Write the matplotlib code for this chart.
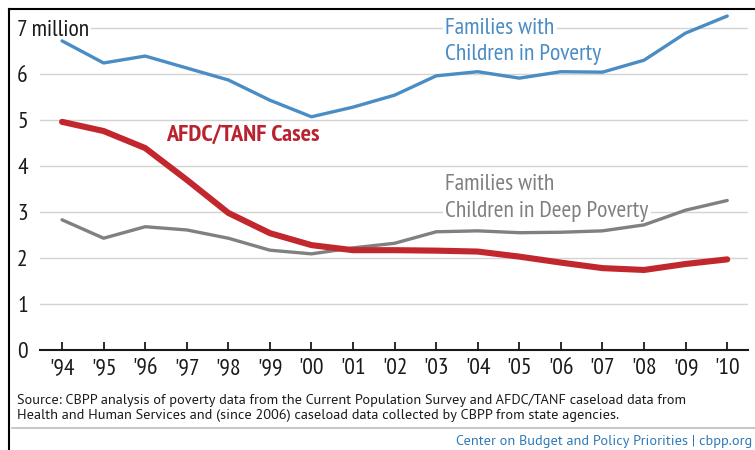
#!/usr/bin/env python3
import matplotlib

matplotlib.use("Agg")
from matplotlib import font_manager
import matplotlib.pyplot as plt
from matplotlib.lines import Line2D

YEARS = list(range(1994, 2011))
YEAR_LABELS = ["'94", "'95", "'96", "'97", "'98", "'99", "'00", "'01", "'02",
               "'03", "'04", "'05", "'06", "'07", "'08", "'09", "'10"]
FAMILIES_POVERTY = [6.72, 6.24, 6.39, 6.13, 5.87, 5.43, 5.07, 5.28, 5.54,
                    5.96, 6.05, 5.91, 6.05, 6.04, 6.30, 6.89, 7.26]
AFDC_TANF = [4.96, 4.76, 4.39, 3.70, 2.98, 2.54, 2.28, 2.17, 2.17,
             2.16, 2.14, 2.03, 1.90, 1.78, 1.74, 1.87, 1.97]
DEEP_POVERTY = [2.83, 2.43, 2.68, 2.61, 2.43, 2.17, 2.09, 2.22, 2.32,
                2.57, 2.59, 2.55, 2.56, 2.59, 2.72, 3.04, 3.25]
Y_TICKS = [0, 1, 2, 3, 4, 5, 6, 7]
Y_LABELS = ["0", "1", "2", "3", "4", "5", "6", "7 million"]

BLUE = "#4A8CC4"
RED = "#C1272D"
GRAY = "#808080"
GRID_COLOR = "#D3D3D3"

SOURCE = ("Source: CBPP analysis of poverty data from the Current Population Survey and AFDC/TANF caseload data from\n"
          "Health and Human Services and (since 2006) caseload data collected by CBPP from state agencies.")
FOOTER = "Center on Budget and Policy Priorities | cbpp.org"


def _pick_font(preferred):
    available = {font.name for font in font_manager.fontManager.ttflist}
    stack = [name for name in preferred if name in available]
    return stack + ["DejaVu Sans"]


MAIN_FONT = _pick_font(["PT Sans Narrow", "Fira Sans Condensed", "Open Sans"])
NOTE_FONT = _pick_font(["PT Sans", "Open Sans"])
plt.rcParams["font.family"] = MAIN_FONT

W, H = 755, 450
fig = plt.figure(figsize=(W / 100, H / 100), dpi=100)
ax = fig.add_axes([40 / W, 1 - 350 / H, (748 - 40) / W, 335.8 / H])

ax.plot(YEARS, FAMILIES_POVERTY, color=BLUE, linewidth=2.4, solid_capstyle="round", zorder=3)
ax.plot(YEARS, DEEP_POVERTY, color=GRAY, linewidth=2.4, solid_capstyle="round", zorder=3)
ax.plot(YEARS, AFDC_TANF, color=RED, linewidth=4.4, solid_capstyle="round", zorder=4)

ax.set_xlim(1993.47, 2010.5)
ax.set_ylim(0, 7.3)
ax.set_yticks(Y_TICKS)
ax.set_yticklabels(Y_LABELS)
ax.set_xticks(YEARS)
ax.set_xticklabels(YEAR_LABELS)
ax.grid(True, axis="y", color=GRID_COLOR, linewidth=1.0)
ax.set_axisbelow(True)
for name in ("top", "right", "left"):
    ax.spines[name].set_visible(False)
ax.spines["bottom"].set_linewidth(1.5)
ax.spines["bottom"].set_color("#1a1a1a")
ax.tick_params(axis="x", direction="in", length=6, width=1.3, pad=6, labelsize=17, colors="#1a1a1a")
ax.tick_params(axis="y", length=0, pad=16.5, labelsize=17, colors="#1a1a1a")
for label in ax.get_yticklabels():
    label.set_horizontalalignment("left")
top_label = ax.get_yticklabels()[-1]
top_label.set_bbox(dict(facecolor="white", edgecolor="none", pad=1.5))

box = dict(facecolor="white", edgecolor="none", pad=2)
LX = 2003.22
ax.text(LX, 7.0, "Families with", color=BLUE, fontsize=17, ha="left", va="center", bbox=box, zorder=2)
ax.text(LX, 6.42, "Children in Poverty", color=BLUE, fontsize=17, ha="left", va="center", zorder=2)
ax.text(LX, 3.6, "Families with", color=GRAY, fontsize=17, ha="left", va="center", zorder=2)
ax.text(LX, 3.02, "Children in Deep Poverty", color=GRAY, fontsize=17, ha="left", va="center", bbox=box, zorder=2)
ax.text(1996.5, 4.67, "AFDC/TANF Cases", color="#B8232F", fontsize=17.5, fontweight="bold", ha="left", va="center", zorder=5)

fig.text(17 / W, 1 - 408 / H, SOURCE, fontsize=10.3, ha="left", va="center", color="#1a1a1a",
         family=NOTE_FONT, linespacing=1.1)
fig.text(752 / W, 1 - 441 / H, FOOTER, fontsize=10.3, ha="right", va="center", color="#2F79B8", family=NOTE_FONT)

fig.add_artist(Line2D([12 / W, 1], [1 - 428 / H] * 2, color="#BDBDBD", linewidth=1.2))
fig.add_artist(Line2D([9 / W, 1], [1 - 9 / H] * 2, color="black", linewidth=1.5))
fig.add_artist(Line2D([9 / W, 9 / W], [1 - 9 / H, 0], color="black", linewidth=1.5))

fig.savefig("out.png", dpi=100)
